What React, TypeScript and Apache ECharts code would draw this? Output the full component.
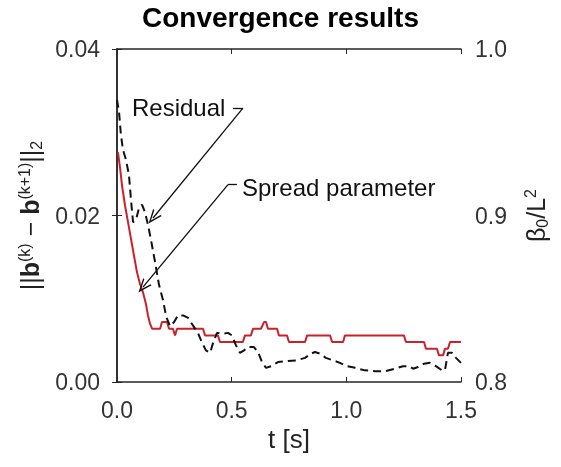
import React, { useEffect, useRef } from "react";
import * as echarts from "echarts";

// Spread parameter (right axis, beta0/L^2)
const spreadT = [0.004, 0.013, 0.022, 0.035, 0.048, 0.061, 0.074, 0.087, 0.1, 0.113, 0.126, 0.135, 0.144, 0.153, 0.188, 0.196, 0.218, 0.227, 0.244, 0.253, 0.262, 0.375, 0.384, 0.44, 0.449, 0.549, 0.558, 0.584, 0.593, 0.628, 0.641, 0.65, 0.658, 0.698, 0.706, 0.741, 0.75, 0.82, 0.829, 0.929, 0.938, 0.986, 0.994, 1.251, 1.26, 1.339, 1.347, 1.395, 1.404, 1.422, 1.43, 1.443, 1.452, 1.5];
const spreadV = [0.938, 0.929, 0.918, 0.906, 0.896, 0.886, 0.876, 0.866, 0.859, 0.854, 0.847, 0.84, 0.835, 0.832, 0.832, 0.836, 0.836, 0.832, 0.832, 0.828, 0.832, 0.832, 0.828, 0.828, 0.824, 0.824, 0.828, 0.828, 0.832, 0.832, 0.836, 0.836, 0.832, 0.832, 0.828, 0.828, 0.824, 0.824, 0.828, 0.828, 0.824, 0.824, 0.828, 0.828, 0.824, 0.824, 0.82, 0.82, 0.816, 0.816, 0.82, 0.82, 0.824, 0.824];

// Residual (left axis)
const residT = [0, 0.009, 0.017, 0.026, 0.039, 0.052, 0.061, 0.07, 0.083, 0.096, 0.109, 0.122, 0.135, 0.148, 0.166, 0.183, 0.201, 0.214, 0.231, 0.249, 0.266, 0.288, 0.31, 0.331, 0.353, 0.371, 0.388, 0.406, 0.419, 0.436, 0.458, 0.484, 0.501, 0.519, 0.536, 0.554, 0.571, 0.597, 0.615, 0.632, 0.65, 0.672, 0.702, 0.737, 0.781, 0.82, 0.846, 0.863, 0.885, 0.911, 0.942, 0.972, 1.003, 1.038, 1.081, 1.125, 1.169, 1.212, 1.247, 1.273, 1.291, 1.313, 1.339, 1.365, 1.391, 1.417, 1.43, 1.443, 1.461, 1.478, 1.5];
const residV = [0.0339, 0.0324, 0.0297, 0.0279, 0.0267, 0.0249, 0.0219, 0.0192, 0.0195, 0.0209, 0.0213, 0.0204, 0.0189, 0.0171, 0.0144, 0.0117, 0.0098, 0.0079, 0.0067, 0.0072, 0.008, 0.008, 0.0077, 0.0068, 0.0059, 0.0047, 0.0038, 0.0035, 0.0047, 0.0059, 0.0058, 0.0059, 0.0056, 0.0044, 0.0035, 0.0038, 0.0042, 0.0042, 0.0036, 0.0024, 0.0017, 0.0019, 0.0024, 0.0025, 0.0026, 0.0029, 0.0034, 0.0036, 0.0034, 0.0029, 0.0026, 0.0023, 0.0019, 0.0017, 0.0014, 0.0013, 0.0013, 0.0016, 0.0019, 0.0019, 0.0016, 0.0018, 0.0022, 0.0023, 0.0019, 0.0014, 0.0014, 0.0035, 0.0035, 0.0029, 0.0023];

const xTicks = [0, 0.5, 1.0, 1.5];

// Annotation anchors in data coordinates (left axis)
const residualArrow = { elbow: [0.506, 0.0329], start: [0.549, 0.0329], tip: [0.157, 0.0197] };
const spreadArrow = { elbow: [0.523, 0.0237], start: [0.484, 0.0237], tip: [0.113, 0.0114] };

const FONT = "Liberation Sans, Arial, sans-serif";
const AX = "#262626";

export default function App() {
  const ref = useRef<HTMLDivElement>(null);
  useEffect(() => {
    const chart = echarts.init(ref.current!, undefined, { renderer: "svg" });
    const chevron = "path://M5,0 L10,12 L8.6,12 L5,3.2 L1.4,12 L0,12 Z";
    const option: any = {
      animation: false,
      textStyle: { fontFamily: FONT },
      title: {
        text: "Convergence results",
        left: "center",
        top: -2,
        textStyle: { fontSize: 28, fontWeight: "bold", color: "#000", fontFamily: FONT },
      },
      grid: { left: 117, right: 100, top: 49, bottom: 85, containLabel: false, outerBoundsMode: "none" },
      xAxis: [
        {
          type: "value",
          min: 0,
          max: 1.5,
          interval: 0.5,
          position: "bottom",
          name: "t [s]",
          nameLocation: "middle",
          nameGap: 39,
          nameTextStyle: { fontSize: 26, color: "#222", fontFamily: FONT },
          axisLine: { lineStyle: { color: AX, width: 1.5 } },
          axisTick: { inside: true, length: 5, lineStyle: { color: AX } },
          axisLabel: {
            fontSize: 23,
            color: "#333",
            margin: 16,
            formatter: (v: number) => (xTicks.indexOf(v) >= 0 ? v.toFixed(1) : ""),
          },
          splitLine: { show: false },
        },
        {
          type: "value",
          min: 0,
          max: 1.5,
          interval: 0.5,
          position: "top",
          axisLine: { lineStyle: { color: AX, width: 1.5 } },
          axisTick: { inside: true, length: 5, lineStyle: { color: AX } },
          axisLabel: { show: false },
          splitLine: { show: false },
        },
      ],
      yAxis: [
        {
          type: "value",
          min: 0,
          max: 0.04,
          interval: 0.02,
          position: "left",
          name:
            "{n|||}{b|b}{sup|(k)}{n| − }{b|b}{sup|(k+1)}{n|||}{sub|2}",
          nameLocation: "middle",
          nameRotate: 90,
          nameGap: 62,
          nameTextStyle: {
            color: "#222",
            rich: {
              n: { fontSize: 25, fontFamily: FONT, color: "#222" },
              b: { fontSize: 25, fontWeight: "bold", fontFamily: FONT, color: "#222" },
              sup: { fontSize: 16, fontFamily: FONT, color: "#222", verticalAlign: "top", padding: [0, 0, 12, 0] },
              sub: { fontSize: 16, fontFamily: FONT, color: "#222", verticalAlign: "bottom", padding: [10, 0, 0, 0] },
            },
          },
          axisLine: { lineStyle: { color: AX, width: 1.5 } },
          axisTick: { inside: true, length: 5, lineStyle: { color: AX } },
          axisLabel: { fontSize: 23, color: "#333", margin: 17, formatter: (v: number) => v.toFixed(2) },
          splitLine: { show: false },
        },
        {
          type: "value",
          min: 0.8,
          max: 1.0,
          interval: 0.1,
          position: "right",
          name: "{n|β}{sub|0}{n|/L}{sup|2}",
          nameLocation: "middle",
          nameRotate: 90,
          nameGap: 61,
          nameTextStyle: {
            color: "#222",
            rich: {
              n: { fontSize: 25, fontFamily: FONT, color: "#222" },
              sup: { fontSize: 16, fontFamily: FONT, color: "#222", verticalAlign: "top", padding: [0, 0, 12, 0] },
              sub: { fontSize: 16, fontFamily: FONT, color: "#222", verticalAlign: "bottom", padding: [10, 0, 0, 0] },
            },
          },
          axisLine: { lineStyle: { color: AX, width: 1.5 } },
          axisTick: { inside: true, length: 5, lineStyle: { color: AX } },
          axisLabel: { fontSize: 23, color: "#333", margin: 14, formatter: (v: number) => v.toFixed(1) },
          splitLine: { show: false },
        },
      ],
      series: [
        {
          name: "Spread parameter",
          type: "line",
          xAxisIndex: 0,
          yAxisIndex: 1,
          data: spreadT.map((t, i) => [t, spreadV[i]]),
          showSymbol: false,
          symbol: "none",
          lineStyle: { color: "#c8232c", width: 2 },
          z: 3,
        },
        {
          name: "Residual",
          type: "line",
          xAxisIndex: 0,
          yAxisIndex: 0,
          data: residT.map((t, i) => [t, residV[i]]),
          showSymbol: false,
          symbol: "none",
          lineStyle: { color: "#111", width: 2, type: [8, 5] },
          z: 4,
          markLine: {
            silent: true,
            symbol: ["none", "none"],
            label: { show: false },
            lineStyle: { color: "#111", width: 1.3, type: "solid" },
            data: [
              [{ coord: residualArrow.elbow }, { coord: residualArrow.start }],
              [
                { coord: residualArrow.start, symbol: "none" },
                { coord: residualArrow.tip, symbol: chevron, symbolSize: [11, 14] },
              ],
              [{ coord: spreadArrow.start }, { coord: spreadArrow.elbow }],
              [
                { coord: spreadArrow.start, symbol: "none" },
                { coord: spreadArrow.tip, symbol: chevron, symbolSize: [11, 14] },
              ],
            ],
          },
        },
      ],
      graphic: [
        {
          type: "text",
          left: 132,
          top: 95,
          style: { text: "Residual", fontSize: 24, fontFamily: FONT, fill: "#111" },
        },
        {
          type: "text",
          left: 242,
          top: 175,
          style: { text: "Spread parameter", fontSize: 24, fontFamily: FONT, fill: "#111" },
        },
      ],
    };
    chart.setOption(option);
    return () => chart.dispose();
  }, []);
  return (
    <div
      ref={ref}
      style={{ position: "fixed", left: 0, top: 0, width: 561, height: 467 }}
    />
  );
}
